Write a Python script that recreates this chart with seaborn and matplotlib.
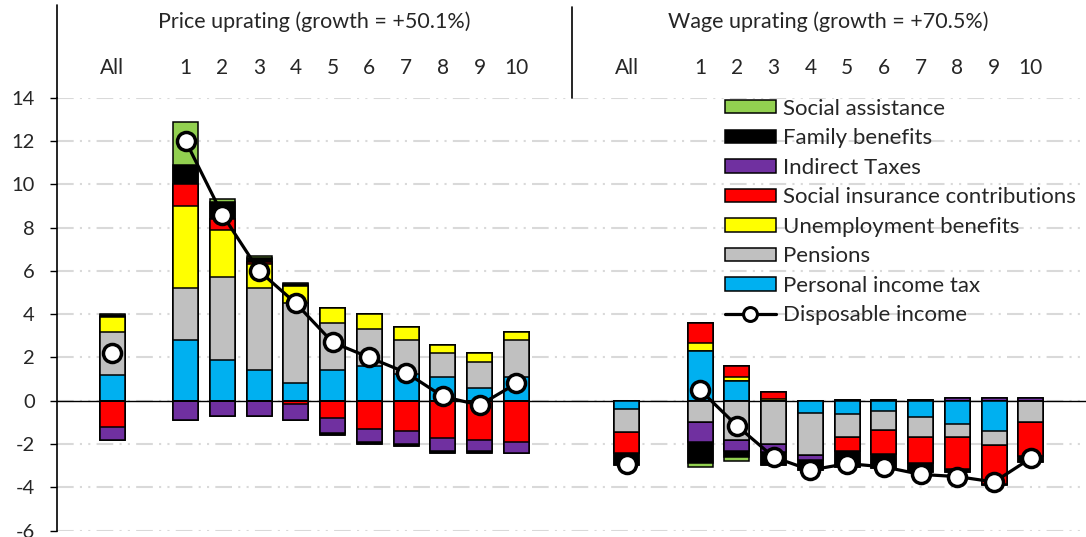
import numpy as np
import pandas as pd
import matplotlib
matplotlib.use("Agg")
import matplotlib.pyplot as plt
import matplotlib.transforms as mtransforms
from matplotlib.patches import Patch
from matplotlib.lines import Line2D
import seaborn as sns

# ---------------------------------------------------------------
# Data, percentage change by decile
# ---------------------------------------------------------------
groups = ["All", "1", "2", "3", "4", "5", "6", "7", "8", "9", "10"]
panels = ["Price uprating (growth = +50.1%)", "Wage uprating (growth = +70.5%)"]

# stacking order (bottom -> top), as in the source spreadsheet
components = ["Personal income tax", "Pensions", "Unemployment benefits",
              "Social insurance contributions", "Indirect Taxes",
              "Family benefits", "Social assistance"]
comp_colors = ["#00B0F0", "#C0C0C0", "#FFFF00", "#FF0000", "#7030A0",
               "#000000", "#92D050"]

# price uprating
price_pit = [1.2, 2.8, 1.9, 1.4, 0.8, 1.4, 1.6, 1.25, 1.1, 0.6, 1.1]
price_pensions = [2.0, 2.4, 3.8, 3.8, 3.7, 2.2, 1.7, 1.55, 1.1, 1.2, 1.7]
price_unemp = [0.65, 3.8, 2.2, 1.1, 0.8, 0.7, 0.7, 0.6, 0.4, 0.4, 0.4]
price_sic = [-1.2, 1.0, 0.5, 0.1, -0.15, -0.8, -1.3, -1.4, -1.7, -1.8, -1.9]
price_indirect = [-0.6, -0.9, -0.7, -0.7, -0.75, -0.7, -0.6, -0.6, -0.6, -0.5, -0.5]
price_family = [0.1, 0.9, 0.8, 0.2, 0.1, -0.1, -0.1, -0.1, -0.1, -0.1, 0.0]
price_socassist = [0.05, 2.0, 0.1, 0.1, 0.05, 0.0, 0.0, 0.0, 0.0, 0.0, 0.0]
price_disposable = [2.2, 12.0, 8.6, 6.0, 4.5, 2.7, 2.0, 1.3, 0.2, -0.2, 0.8]

# wage uprating
wage_pit = [-0.4, 2.3, 0.9, 0.0, -0.55, -0.6, -0.45, -0.75, -1.05, -1.4, 0.0]
wage_pensions = [-1.05, -1.0, -1.8, -2.0, -1.95, -1.05, -0.9, -0.9, -0.6, -0.65, -1.0]
wage_unemp = [0.0, 0.35, 0.2, 0.1, 0.0, 0.0, 0.0, 0.0, 0.0, 0.0, 0.0]
wage_sic = [-0.95, 0.95, 0.5, 0.3, 0.0, -0.65, -1.1, -1.2, -1.5, -1.8, -1.55]
wage_indirect = [0.0, -0.9, -0.5, -0.35, -0.25, 0.05, 0.05, 0.05, 0.15, 0.15, 0.12]
wage_family = [-0.55, -0.95, -0.3, -0.6, -0.45, -0.75, -0.65, -0.45, -0.15, -0.05, -0.27]
wage_socassist = [0.0, -0.2, -0.17, 0.0, 0.0, 0.0, 0.0, 0.0, 0.0, 0.0, 0.0]
wage_disposable = [-2.9, 0.5, -1.15, -2.6, -3.2, -2.9, -3.05, -3.4, -3.5, -3.75, -2.65]

price_parts = [price_pit, price_pensions, price_unemp, price_sic,
               price_indirect, price_family, price_socassist]
wage_parts = [wage_pit, wage_pensions, wage_unemp, wage_sic,
              wage_indirect, wage_family, wage_socassist]

# ---------------------------------------------------------------
# Long table + x positions (gap after "All", wider gap between panels)
# ---------------------------------------------------------------
rows = []
line_rows = []
for p_idx, (parts, disp) in enumerate([(price_parts, price_disposable),
                                       (wage_parts, wage_disposable)]):
    for g_idx, g in enumerate(groups):
        x = p_idx * 14 + (0 if g_idx == 0 else g_idx + 1)
        for c_idx, comp in enumerate(components):
            rows.append({"panel": panels[p_idx], "group": g, "x": x,
                         "component": comp, "order": c_idx,
                         "value": parts[c_idx][g_idx]})
        # "All" marker stands alone, deciles are joined by a line
        seg = f"{p_idx}-all" if g_idx == 0 else f"{p_idx}-deciles"
        line_rows.append({"segment": seg, "x": x, "disposable": disp[g_idx]})
df = pd.DataFrame(rows)
line_df = pd.DataFrame(line_rows)

# positive and negative values stack separately (Excel style)
df["pos_top"] = df["value"].clip(lower=0).groupby(df["x"]).cumsum()
df["neg_top"] = df["value"].clip(upper=0).groupby(df["x"]).cumsum()

# ---------------------------------------------------------------
# Plot
# ---------------------------------------------------------------
sns.set_theme(style="white")
plt.rcParams["font.family"] = ["Lato", "DejaVu Sans"]
plt.rcParams["axes.unicode_minus"] = False

fig = plt.figure(figsize=(10.86, 5.37), dpi=100)
ax = fig.add_axes([57 / 1086, 6.3 / 537, 1029 / 1086, 433 / 537])

# gridlines
ax.set_axisbelow(True)
ax.yaxis.grid(True, color="#D9D9D9", linewidth=1.5,
              linestyle=(0, (8, 3, 1, 3, 1, 3)))
ax.axhline(0, color="black", linewidth=1.0, zorder=1)

# stacked bars: draw cumulative totals from the top layer down
for col in ["pos_top", "neg_top"]:
    for c_idx in reversed(range(len(components))):
        layer = df[df["order"] == c_idx]
        sns.barplot(data=layer, x="x", y=col, native_scale=True,
                    color=comp_colors[c_idx], saturation=1, width=0.68,
                    edgecolor="black", linewidth=1.1, errorbar=None,
                    ax=ax, zorder=2)

sns.lineplot(data=line_df, x="x", y="disposable", units="segment",
             estimator=None, color="black", linewidth=2.3, marker="o",
             markersize=13, markerfacecolor="white",
             markeredgecolor="black", markeredgewidth=2.5,
             ax=ax, zorder=5, legend=False)

ax.set_xlim(-1.5, 26.5)
ax.set_ylim(-6, 14)
ax.set_yticks(np.arange(-6, 15, 2))
ax.set_xlabel("")
ax.set_ylabel("")

# category labels at the top
xpos = sorted(df["x"].unique())
ax.xaxis.tick_top()
ax.set_xticks(xpos)
ax.set_xticklabels(groups + groups)
ax.tick_params(axis="x", length=0, pad=14, labelsize=15)
ax.tick_params(axis="y", direction="out", length=5, width=1.0,
               color="black", pad=11, labelsize=14.5, left=True)

for side in ["top", "right", "bottom"]:
    ax.spines[side].set_visible(False)
ax.spines["left"].set_color("black")
ax.spines["left"].set_linewidth(1.2)

# header area: panel titles, separator and extended axis line
trans = mtransforms.blended_transform_factory(ax.transData, ax.transAxes)
ax.text(5.5, 1.176, panels[0], transform=trans, ha="center", va="center",
        fontsize=15.5)
ax.text(19.5, 1.176, panels[1], transform=trans, ha="center", va="center",
        fontsize=15.5)
ax.plot([12.5, 12.5], [1.0, 1.21], transform=trans, color="black",
        linewidth=1.2, clip_on=False)
ax.plot([-1.5, -1.5], [1.0, 1.215], transform=trans, color="black",
        linewidth=1.2, clip_on=False)

# legend
handles = [Patch(facecolor=comp_colors[i], edgecolor="black", linewidth=1.1,
                 label=components[i]) for i in reversed(range(len(components)))]
handles.append(Line2D([0], [0], color="black", linewidth=2.3, marker="o",
                      markersize=10, markerfacecolor="white",
                      markeredgecolor="black", markeredgewidth=2.2,
                      label="Disposable income"))
ax.legend(handles=handles, loc="upper left", bbox_to_anchor=(0.649, 0.998),
          frameon=False, fontsize=16, handlelength=2.3, handleheight=0.55,
          handletextpad=0.3, labelspacing=0.43, borderpad=0,
          borderaxespad=0)

fig.savefig("out.png", dpi=100)
